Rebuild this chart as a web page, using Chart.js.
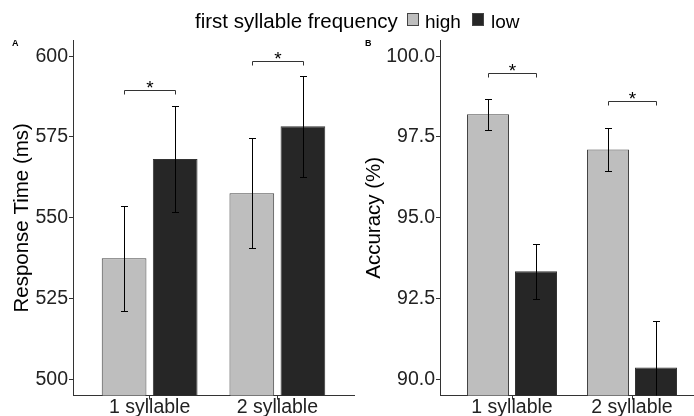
<!DOCTYPE html>
<html lang="en">
<head>
  <meta charset="UTF-8">
  <title>First syllable frequency</title>
  <script src="https://cdn.jsdelivr.net/npm/chart.js"></script>
  <style>
    html, body {
      margin: 0;
      padding: 0;
      width: 694px;
      height: 416px;
      overflow: hidden;
      background: #fff;
      font-family: 'Liberation Sans', Arial, sans-serif;
      color: #000;
    }
    #wrap { position: relative; width: 694px; height: 416px; overflow: hidden; }
    canvas { position: absolute; top: 0; }
    #chartA { left: 0; }
    #chartB { left: 360px; }
    .abs { position: absolute; white-space: nowrap; line-height: 1; }
    .tag { font-weight: bold; font-size: 9px; }
    .key { position: absolute; box-sizing: border-box; border: 1px solid #444; }
  </style>
</head>
<body>
<div id="wrap">
  <canvas id="chartA" width="360" height="440"></canvas>
  <canvas id="chartB" width="360" height="440"></canvas>

  <div id="legend"></div>
  <span class="abs tag" style="left:12px; top:39px;">A</span>
  <span class="abs tag" style="left:365px; top:39px;">B</span>
</div>

<script>
    const categories = ['1 syllable', '2 syllable'];
    const groups = ['high', 'low'];
    const groupColors = ['#bebebe', '#262626'];

    // panel A: response time (ms)
    const rtHigh = [537.5, 557.6];
    const rtLow = [568.2, 578.3];
    const rtErrHigh = [16.2, 17.0];
    const rtErrLow = [16.3, 15.6];
    const rtSig = [589.4, 598.5];
    const rtTicks = [500, 525, 550, 575, 600];

    // panel B: accuracy (%)
    const accHigh = [98.20, 97.11];
    const accLow = [93.35, 90.37];
    const accErrHigh = [0.48, 0.67];
    const accErrLow = [0.85, 1.43];
    const accSig = [99.47, 98.60];
    const accTicks = [90, 92.5, 95, 97.5, 100];

    const FONT = "'Liberation Sans', Arial, sans-serif";
    Chart.defaults.font.family = FONT;

    // error bars + significance brackets
    const errorBars = {
        id: 'errorBars',
        afterDatasetsDraw(chart, args, opts) {
            const ctx = chart.ctx;
            const y = chart.scales.y;
            const area = chart.chartArea;
            const cap = 3.5;

            ctx.save();
            ctx.beginPath();
            ctx.rect(area.left, area.top, area.right - area.left, area.bottom - area.top);
            ctx.clip();
            ctx.strokeStyle = '#000';
            ctx.lineWidth = 1;
            chart.data.datasets.forEach((ds, di) => {
                chart.getDatasetMeta(di).data.forEach((bar, i) => {
                    const m = ds.data[i].y;
                    const e = opts.errors[di][i];
                    const x = Math.round(bar.x) + 0.5;
                    const yHi = Math.round(y.getPixelForValue(m + e)) + 0.5;
                    const yLo = Math.round(y.getPixelForValue(m - e)) + 0.5;
                    ctx.beginPath();
                    ctx.moveTo(x, yHi); ctx.lineTo(x, yLo);
                    ctx.moveTo(x - cap, yHi); ctx.lineTo(x + cap, yHi);
                    ctx.moveTo(x - cap, yLo); ctx.lineTo(x + cap, yLo);
                    ctx.stroke();
                });
            });
            ctx.restore();

            // brackets
            ctx.save();
            ctx.strokeStyle = '#333';
            ctx.lineWidth = 1;
            ctx.fillStyle = '#000';
            ctx.font = '19px ' + FONT;
            ctx.textAlign = 'center';
            ctx.textBaseline = 'alphabetic';
            const m0 = chart.getDatasetMeta(0).data;
            const m1 = chart.getDatasetMeta(1).data;
            opts.brackets.forEach((v, i) => {
                const x1 = Math.round(m0[i].x) + 0.5;
                const x2 = Math.round(m1[i].x) + 0.5;
                const yb = Math.round(y.getPixelForValue(v)) + 0.5;
                ctx.beginPath();
                ctx.moveTo(x1, yb + 4);
                ctx.lineTo(x1, yb);
                ctx.lineTo(x2, yb);
                ctx.lineTo(x2, yb + 4);
                ctx.stroke();
                ctx.fillText('*', (x1 + x2) / 2, yb + 3.5);
            });
            ctx.restore();
        }
    };

    function makeChart(id, opt) {
        const ctx = document.getElementById(id).getContext('2d');
        return new Chart(ctx, {
            type: 'bar',
            data: {
                datasets: [
                    {
                        label: groups[0],
                        data: opt.high.map((v, i) => ({ x: i + 1, y: v })),
                        backgroundColor: groupColors[0],
                        borderColor: '#444',
                        borderWidth: 1,
                        categoryPercentage: 0.8,
                        barPercentage: 0.875
                    },
                    {
                        label: groups[1],
                        data: opt.low.map((v, i) => ({ x: i + 1, y: v })),
                        backgroundColor: groupColors[1],
                        borderColor: '#333',
                        borderWidth: 1,
                        categoryPercentage: 0.8,
                        barPercentage: 0.875
                    }
                ]
            },
            options: {
                responsive: false,
                animation: false,
                layout: { padding: { top: 40, right: opt.padRight, left: 0, bottom: 0 } },
                plugins: {
                    legend: { display: false },
                    tooltip: { enabled: false },
                    errorBars: { errors: opt.errors, brackets: opt.sig }
                },
                scales: {
                    x: {
                        type: 'linear',
                        min: 0.4,
                        max: 2.6,
                        offset: false,
                        afterBuildTicks: s => { s.ticks = categories.map((c, i) => ({ value: i + 1 })); },
                        afterFit: s => { s.height = 44.4; },
                        ticks: {
                            callback: (v, i) => categories[i],
                            font: { size: 19.5, lineHeight: 1 },
                            color: '#222',
                            padding: -2,
                            maxRotation: 0,
                            autoSkip: false
                        },
                        grid: { display: true, offset: false, drawOnChartArea: false, drawTicks: true, tickLength: 4, tickColor: '#333' },
                        border: { display: true, color: '#333', width: 1 }
                    },
                    y: {
                        min: opt.min,
                        max: opt.max,
                        afterBuildTicks: s => { s.ticks = opt.ticks.map(v => ({ value: v })); },
                        afterFit: s => { s.width = opt.axisWidth; },
                        ticks: {
                            callback: opt.fmt,
                            font: { size: 19.5 },
                            color: '#222',
                            padding: 1
                        },
                        grid: { display: true, drawOnChartArea: false, drawTicks: true, tickLength: 4, tickColor: '#333' },
                        border: { display: true, color: '#333', width: 1 },
                        title: {
                            display: true,
                            text: opt.title,
                            color: '#000',
                            font: { size: 20.5 },
                            padding: { top: opt.titlePad, bottom: 0 }
                        }
                    }
                }
            },
            plugins: [errorBars]
        });
    }

    makeChart('chartA', {
        high: rtHigh, low: rtLow, errors: [rtErrHigh, rtErrLow], sig: rtSig,
        ticks: rtTicks, min: 495, max: 605, fmt: v => String(v),
        title: 'Response Time (ms)', axisWidth: 73, padRight: 6, titlePad: 10
    });

    makeChart('chartB', {
        high: accHigh, low: accLow, errors: [accErrHigh, accErrLow], sig: accSig,
        ticks: accTicks, min: 89.5, max: 100.5, fmt: v => v.toFixed(1),
        title: 'Accuracy (%)', axisWidth: 80, padRight: 16, titlePad: 2
    });

    // legend across the top
    const legend = document.getElementById('legend');
    legend.innerHTML =
        '<span class="abs" style="left:195px; top:10.6px; font-size:20.5px;">first syllable frequency</span>' +
        '<div class="key" style="left:407px; top:13px; width:12px; height:13px; background:' + groupColors[0] + ';"></div>' +
        '<span class="abs" style="left:425px; top:11.9px; font-size:19px;">' + groups[0] + '</span>' +
        '<div class="key" style="left:472px; top:13px; width:12px; height:13px; background:' + groupColors[1] + ';"></div>' +
        '<span class="abs" style="left:491px; top:11.9px; font-size:19px;">' + groups[1] + '</span>';
</script>
</body>
</html>
